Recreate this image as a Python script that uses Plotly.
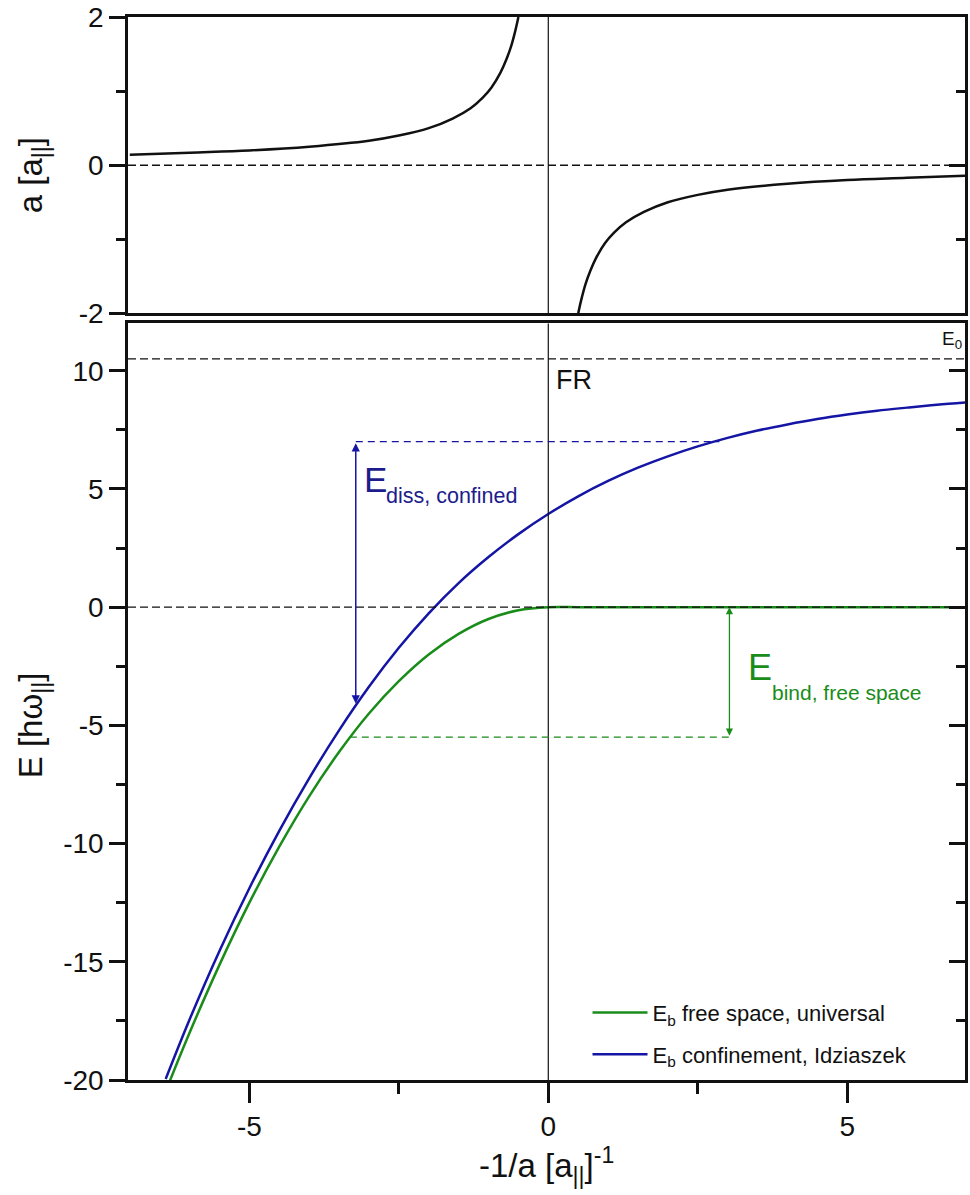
import plotly.graph_objects as go

# ---- upper panel: scattering length a versus -1/a (two branches around the resonance)
inv_a_left = [-7.0, -6.0, -5.0, -4.0, -3.0, -2.5, -2.0, -1.6, -1.3, -1.1, -0.95, -0.8, -0.7, -0.62, -0.55, -0.5]
a_left = [0.14, 0.17, 0.20, 0.25, 0.33, 0.40, 0.50, 0.63, 0.77, 0.91, 1.05, 1.25, 1.43, 1.61, 1.82, 2.0]
inv_a_right = [0.5, 0.55, 0.62, 0.7, 0.8, 0.95, 1.1, 1.3, 1.6, 2.0, 2.5, 3.0, 4.0, 5.0, 6.0, 7.0]
a_right = [-2.0, -1.82, -1.61, -1.43, -1.25, -1.05, -0.91, -0.77, -0.63, -0.50, -0.40, -0.33, -0.25, -0.20, -0.17, -0.14]

# ---- lower panel: bound-state energies
inv_a = [-6.4, -6.0, -5.5, -5.0, -4.5, -4.0, -3.5, -3.0, -2.5, -2.0, -1.5, -1.0, -0.5, 0.0,
         0.5, 1.0, 1.5, 2.0, 2.5, 3.0, 3.5, 4.0, 4.5, 5.0, 5.5, 6.0, 6.5, 7.0]
e_free = [-20.48, -18.0, -15.13, -12.5, -10.13, -8.0, -6.13, -4.5, -3.13, -2.0, -1.13, -0.5, -0.13, 0.0,
          0.0, 0.0, 0.0, 0.0, 0.0, 0.0, 0.0, 0.0, 0.0, 0.0, 0.0, 0.0, 0.0, 0.0]
e_conf = [-19.96, -17.44, -14.54, -11.89, -9.46, -7.24, -5.21, -3.37, -1.72, -0.26, 1.02, 2.12, 3.09, 3.94,
          4.69, 5.34, 5.90, 6.38, 6.80, 7.16, 7.47, 7.73, 7.96, 8.15, 8.31, 8.44, 8.56, 8.66]

# axis ticks
x_ticks = [-5, 0, 5]
x_ticktext = ["-5", "0", "5"]
a_ticks = [-2, 0, 2]
a_ticktext = ["-2", "0", "2"]
e_ticks = [-20, -15, -10, -5, 0, 5, 10]
e_ticktext = ["-20", "-15", "-10", "-5", "0", "5", "10"]

# reference levels and marked energy gaps
e0_level = 10.5
diss_x, diss_top, diss_bottom = -3.22, 7.0, -4.08
diss_line_end = 2.86
bind_x, bind_bottom, bind_top = 3.03, -5.5, 0.0
bind_line_start = -3.32

GREEN = "#1a8c1a"
BLUE = "#1515a5"
NAVY = "#1c1c8c"
FONT = "Arial, Liberation Sans, sans-serif"
X_RANGE = [-7.03, 6.97]

fig = go.Figure()

fig.add_trace(go.Scatter(x=inv_a_left, y=a_left, mode="lines", line=dict(color="#111", width=2.5, shape="spline"),
                         xaxis="x", yaxis="y", showlegend=False, hoverinfo="skip"))
fig.add_trace(go.Scatter(x=inv_a_right, y=a_right, mode="lines", line=dict(color="#111", width=2.5, shape="spline"),
                         xaxis="x", yaxis="y", showlegend=False, hoverinfo="skip"))

fig.add_trace(go.Scatter(x=inv_a, y=e_free, mode="lines", line=dict(color=GREEN, width=2.5, shape="spline"),
                         name="E<sub>b</sub> free space, universal", legendgroup="g1",
                         xaxis="x2", yaxis="y2", hoverinfo="skip"))
fig.add_trace(go.Scatter(x=inv_a, y=e_conf, mode="lines", line=dict(color=BLUE, width=2.5, shape="spline"),
                         name="E<sub>b</sub> confinement, Idziaszek", legendgroup="g2",
                         xaxis="x2", yaxis="y2", hoverinfo="skip"))

# empty traces that carry the inward tick marks on the right-hand side
fig.add_trace(go.Scatter(x=[None], y=[None], xaxis="x", yaxis="y3", showlegend=False, hoverinfo="skip"))
fig.add_trace(go.Scatter(x=[None], y=[None], xaxis="x2", yaxis="y4", showlegend=False, hoverinfo="skip"))

line_common = dict(showline=True, linecolor="#111", linewidth=2.5, showgrid=False, zeroline=False,
                   tickcolor="#111", tickwidth=2.5)
tickfont = dict(family=FONT, size=28, color="#111")


def minor(dt, side):
    return dict(dtick=dt, ticks=side, ticklen=9, tickwidth=2.5, tickcolor="#111")


fig.update_layout(
    width=970, height=1195,
    margin=dict(l=128, r=2, t=15, b=115),
    paper_bgcolor="white", plot_bgcolor="white",
    font=dict(family=FONT, color="#111"),
    xaxis=dict(domain=[0, 1], anchor="y", range=X_RANGE, matches="x2", mirror=True,
               showticklabels=False, ticks="", **line_common),
    yaxis=dict(domain=[0.7211, 1], anchor="x", range=[-2, 2], mirror=True, ticks="outside", ticklen=16,
               tickvals=a_ticks, ticktext=a_ticktext, tickfont=tickfont, ticklabeloverflow="allow",
               minor=minor(1, "outside"), **line_common),
    yaxis3=dict(overlaying="y", side="right", anchor="x", range=[-2, 2], showline=False, showgrid=False,
                zeroline=False, showticklabels=False, ticks="inside", ticklen=16, tickwidth=2.5, tickcolor="#111",
                tickvals=a_ticks, minor=minor(1, "inside")),
    xaxis2=dict(domain=[0, 1], anchor="y2", range=X_RANGE, mirror=True, ticks="outside", ticklen=20,
                tickvals=x_ticks, ticktext=x_ticktext, tickfont=tickfont,
                minor=dict(dtick=2.5, ticks="outside", ticklen=11, tickwidth=2.5, tickcolor="#111"),
                **line_common),
    yaxis2=dict(domain=[0, 0.7117], anchor="x2", range=[-20, 12], mirror=True, ticks="outside", ticklen=16,
                tickvals=e_ticks, ticktext=e_ticktext, tickfont=tickfont, ticklabeloverflow="allow",
                minor=minor(2.5, "outside"), **line_common),
    yaxis4=dict(overlaying="y2", side="right", anchor="x2", range=[-20, 12], showline=False, showgrid=False,
                zeroline=False, showticklabels=False, ticks="inside", ticklen=16, tickwidth=2.5, tickcolor="#111",
                tickvals=e_ticks, minor=minor(2.5, "inside")),
    legend=dict(x=0.549, y=0.004, xanchor="left", yanchor="bottom", bgcolor="rgba(0,0,0,0)",
                font=dict(family=FONT, size=22, color="#111"), itemwidth=55, tracegroupgap=10),
    showlegend=True,
)

shapes = []
# resonance position in both panels
shapes.append(dict(type="line", xref="x", yref="y domain", x0=0, x1=0, y0=0, y1=1,
                   line=dict(color="#111", width=1.2)))
shapes.append(dict(type="line", xref="x2", yref="y2 domain", x0=0, x1=0, y0=0, y1=1,
                   line=dict(color="#111", width=1.2)))
# zero lines and threshold E0
shapes.append(dict(type="line", xref="x", yref="y", x0=X_RANGE[0], x1=X_RANGE[1], y0=0, y1=0,
                   line=dict(color="#111", width=1.3, dash="8px,4px")))
shapes.append(dict(type="line", xref="x2", yref="y2", x0=X_RANGE[0], x1=X_RANGE[1], y0=0, y1=0,
                   line=dict(color="#111", width=1.3, dash="8px,4px")))
shapes.append(dict(type="line", xref="x2", yref="y2", x0=X_RANGE[0], x1=X_RANGE[1], y0=e0_level, y1=e0_level,
                   line=dict(color="#111", width=1.3, dash="8px,4px")))
# guide lines of the two energy gaps
shapes.append(dict(type="line", xref="x2", yref="y2", x0=diss_x, x1=diss_line_end, y0=diss_top, y1=diss_top,
                   line=dict(color=BLUE, width=1.3, dash="7px,5px")))
shapes.append(dict(type="line", xref="x2", yref="y2", x0=bind_line_start, x1=bind_x, y0=bind_bottom, y1=bind_bottom,
                   line=dict(color=GREEN, width=1.3, dash="7px,5px")))
fig.update_layout(shapes=shapes)

ann = []
# double-headed arrows for the energy gaps
ann.append(dict(xref="x2", yref="y2", axref="x2", ayref="y2", x=diss_x, y=diss_bottom, ax=diss_x, ay=diss_top,
                text="", showarrow=True, arrowhead=2, startarrowhead=2, arrowside="end+start",
                arrowsize=1.1, startarrowsize=1.1, arrowwidth=1.5, arrowcolor=BLUE, standoff=0, startstandoff=0))
ann.append(dict(xref="x2", yref="y2", axref="x2", ayref="y2", x=bind_x, y=bind_top, ax=bind_x, ay=bind_bottom,
                text="", showarrow=True, arrowhead=2, startarrowhead=2, arrowside="end+start",
                arrowsize=1.1, startarrowsize=1.1, arrowwidth=1.3, arrowcolor=GREEN, standoff=0, startstandoff=0))
# labels
ann.append(dict(xref="x2", yref="y2", x=6.75, y=11.3, text="E<sub>0</sub>", showarrow=False,
                font=dict(family=FONT, size=19, color="#111")))
ann.append(dict(xref="x2", yref="y2", x=0.1, y=9.6, text="FR", showarrow=False, xanchor="left",
                font=dict(family=FONT, size=27, color="#111")))
ann.append(dict(xref="x2", yref="y2", x=-3.12, y=5.4, text="E", showarrow=False, xanchor="left",
                font=dict(family=FONT, size=35, color=NAVY)))
ann.append(dict(xref="x2", yref="y2", x=-2.74, y=4.7, text="diss, confined", showarrow=False, xanchor="left",
                font=dict(family=FONT, size=21.5, color=NAVY)))
ann.append(dict(xref="x2", yref="y2", x=3.3, y=-2.55, text="E", showarrow=False, xanchor="left",
                font=dict(family=FONT, size=36, color=GREEN)))
ann.append(dict(xref="x2", yref="y2", x=3.7, y=-3.6, text="bind, free space", showarrow=False, xanchor="left",
                font=dict(family=FONT, size=21, color=GREEN)))
# axis titles
ann.append(dict(xref="paper", yref="paper", x=-0.114, y=0.8507, text="a [a<sub>||</sub>]", textangle=-90,
                showarrow=False, xanchor="center", yanchor="middle", font=dict(family=FONT, size=33, color="#111")))
ann.append(dict(xref="paper", yref="paper", x=-0.114, y=0.3333, text="E [hω<sub>||</sub>]", textangle=-90,
                showarrow=False, xanchor="center", yanchor="middle", font=dict(family=FONT, size=33, color="#111")))
ann.append(dict(xref="paper", yref="paper", x=0.5, y=-0.08, text="-1/a [a<sub>||</sub>]<sup>-1</sup>",
                showarrow=False, xanchor="center", yanchor="middle", font=dict(family=FONT, size=33, color="#111")))
fig.update_layout(annotations=ann)

fig.write_html("out.html", config={"displayModeBar": False})
